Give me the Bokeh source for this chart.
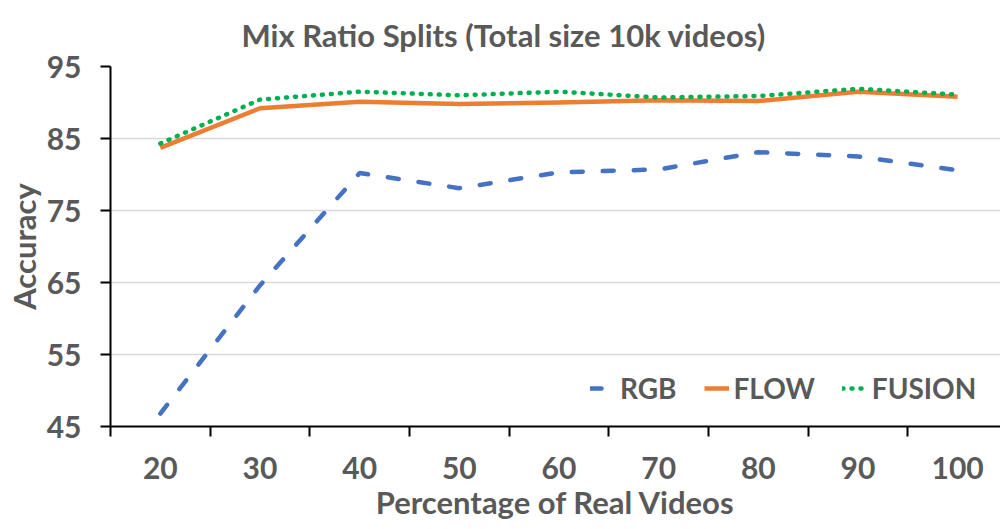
from bokeh.plotting import figure
from bokeh.models import FixedTicker, Legend, LegendItem, Title
from bokeh.embed import file_html
from bokeh.resources import INLINE

# Mix-ratio experiment: accuracy per share of real videos (10k videos total)
categories = ["20", "30", "40", "50", "60", "70", "80", "90", "100"]
rgb = [46.8, 64.6, 80.2, 78.1, 80.3, 80.7, 83.1, 82.5, 80.6]
flow = [83.7, 89.2, 90.1, 89.8, 90.0, 90.3, 90.2, 91.5, 90.8]
fusion = [84.3, 90.4, 91.5, 91.0, 91.5, 90.7, 90.9, 91.9, 91.1]
y_ticks = [45, 55, 65, 75, 85, 95]
title_text = "Mix Ratio Splits (Total size 10k videos)"

FONT = "Lato"
GREY = "#595959"

xs = list(range(len(categories)))

p = figure(
    width=1000, height=529,
    output_backend="svg", toolbar_location=None,
    x_range=(-0.5, 8.43), y_range=(45, 95),
    min_border_left=110, min_border_right=0,
    min_border_top=66, min_border_bottom=103,
)
p.outline_line_color = None
p.background_fill_color = "white"
p.border_fill_color = "white"

p.title = Title(
    text=title_text,
    align="left", offset=131, standoff=25,
    text_font=FONT, text_font_size="31px", text_font_style="bold",
    text_color=GREY,
)

# y axis
p.yaxis.ticker = FixedTicker(ticks=y_ticks)
p.yaxis.axis_label = "Accuracy"
p.yaxis.axis_line_color = "black"
p.yaxis.axis_line_width = 2
p.yaxis.major_tick_line_color = "black"
p.yaxis.major_tick_line_width = 2
p.yaxis.major_tick_out = 10
p.yaxis.major_tick_in = 0
p.yaxis.minor_tick_line_color = None
p.yaxis.major_label_standoff = 19

# x axis: category labels at centres, tick marks on the boundaries
boundaries = [i - 0.5 for i in range(len(categories))]
xaxis = p.below[0]
xaxis.ticker = FixedTicker(ticks=xs, minor_ticks=boundaries)
xaxis.major_label_overrides = {i: c for i, c in enumerate(categories)}
xaxis.axis_label = "Percentage of Real Videos"
xaxis.axis_line_color = "black"
xaxis.axis_line_width = 2
xaxis.major_tick_line_color = None
xaxis.minor_tick_line_color = "black"
xaxis.minor_tick_line_width = 2
xaxis.minor_tick_out = 10
xaxis.minor_tick_in = 0
xaxis.major_label_standoff = 20

for ax in (xaxis, p.yaxis[0]):
    ax.major_label_text_font = FONT
    ax.major_label_text_font_size = "30px"
    ax.major_label_text_font_style = "bold"
    ax.major_label_text_color = GREY
    ax.axis_label_text_font = FONT
    ax.axis_label_text_font_size = "31px"
    ax.axis_label_text_font_style = "bold"
    ax.axis_label_text_color = GREY
    ax.axis_label_standoff = 1

p.xgrid.grid_line_color = None
p.ygrid.grid_line_color = "#d9d9d9"
p.ygrid.grid_line_width = 1.5

r_rgb = p.line(xs, rgb, line_color="#4472c4", line_width=4.5,
               line_dash="11 20", line_cap="round")
r_flow = p.line(xs, flow, line_color="#ed7d31", line_width=4.5,
                line_join="round")
r_fusion = p.line(xs, fusion, line_color="#00b050", line_width=4.5,
                  line_dash="1 8", line_cap="round")

legend = Legend(
    items=[
        LegendItem(label="RGB", renderers=[r_rgb]),
        LegendItem(label="FLOW", renderers=[r_flow]),
        LegendItem(label="FUSION", renderers=[r_fusion]),
    ],
    orientation="horizontal",
    location=(480, 21),
    glyph_width=25, label_standoff=5, spacing=27,
    padding=0, margin=0,
    border_line_color=None, background_fill_alpha=0,
    label_text_font=FONT, label_text_font_size="28px",
    label_text_font_style="bold", label_text_color=GREY,
)
p.add_layout(legend)

open("out.html", "w").write(file_html(p, INLINE))
